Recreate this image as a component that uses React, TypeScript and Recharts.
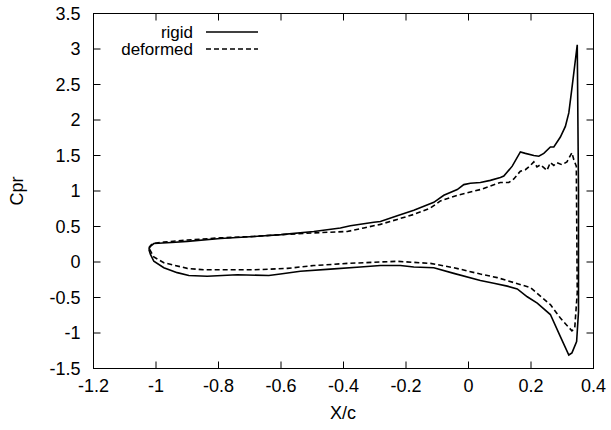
import React from 'react';
import { ScatterChart, Scatter, XAxis, YAxis, Label } from 'recharts';

const xTicks = [-1.2, -1, -0.8, -0.6, -0.4, -0.2, 0, 0.2, 0.4];
const yTicks = [-1.5, -1, -0.5, 0, 0.5, 1, 1.5, 2, 2.5, 3, 3.5];
const xDomain = [-1.2, 0.4];
const yDomain = [-1.5, 3.5];
const seriesNames = ['rigid', 'deformed'];
const xLabel = 'X/c';
const yLabel = 'Cpr';

const rigidX = [
  -1.023, -1.018, -1.007, -0.95, -0.9, -0.794, -0.687, -0.6, -0.495, -0.41, -0.378, -0.303, -0.282, -0.228,
  -0.175, -0.111, -0.079, -0.036, -0.015, 0.006, 0.038, 0.07, 0.102, 0.113, 0.14, 0.166, 0.182, 0.209, 0.225,
  0.241, 0.262, 0.273, 0.294, 0.31, 0.321, 0.331, 0.348,
  0.352, 0.352, 0.346, 0.331, 0.321,
  0.294, 0.262, 0.22, 0.188, 0.156, 0.124, 0.081, 0.038, -0.047, -0.111, -0.175, -0.218, -0.282, -0.346,
  -0.442, -0.538, -0.602, -0.639, -0.74, -0.836, -0.895, -0.932, -0.975, -1.007, -1.018, -1.023,
];
const rigidY = [
  0.18, 0.22, 0.26, 0.275, 0.29, 0.33, 0.36, 0.385, 0.43, 0.48, 0.51, 0.56, 0.57, 0.65,
  0.73, 0.84, 0.94, 1.02, 1.09, 1.11, 1.12, 1.15, 1.19, 1.21, 1.35, 1.55, 1.53, 1.5, 1.49,
  1.53, 1.62, 1.62, 1.76, 1.91, 2.1, 2.45, 3.06,
  1.0, -0.7, -1.12, -1.28, -1.31,
  -1.05, -0.74, -0.58, -0.49, -0.38, -0.34, -0.3, -0.26, -0.16, -0.08, -0.07, -0.05, -0.05, -0.07,
  -0.1, -0.13, -0.17, -0.19, -0.18, -0.2, -0.19, -0.15, -0.08, 0.01, 0.11, 0.18,
];

const deformedX = [
  -1.023, -1.012, -0.975, -0.9, -0.794, -0.687, -0.6, -0.495, -0.388, -0.335, -0.282, -0.228, -0.175,
  -0.122, -0.09, -0.036, 0.038, 0.07, 0.102, 0.129, 0.145, 0.166, 0.182, 0.198, 0.209, 0.219, 0.23,
  0.241, 0.251, 0.262, 0.273, 0.283, 0.299, 0.315, 0.331, 0.337, 0.345,
  0.348, 0.34, 0.331,
  0.294, 0.262, 0.23, 0.198, 0.145, 0.092, 0.038, -0.047, -0.122, -0.228, -0.282, -0.388, -0.495,
  -0.58, -0.687, -0.847, -0.9, -0.975, -1.007, -1.023,
];
const deformedY = [
  0.2, 0.26, 0.28, 0.31, 0.34, 0.36, 0.385, 0.41, 0.43, 0.48, 0.53, 0.6, 0.67,
  0.76, 0.86, 0.94, 1.02, 1.07, 1.12, 1.12, 1.17, 1.28, 1.3, 1.36, 1.41, 1.34, 1.37,
  1.33, 1.29, 1.4, 1.36, 1.4, 1.37, 1.41, 1.54, 1.44, 1.35,
  -0.43, -0.93, -0.97,
  -0.79, -0.6, -0.48, -0.36, -0.29, -0.22, -0.17, -0.08, -0.02, 0.01, 0.0, -0.02, -0.05,
  -0.09, -0.11, -0.11, -0.09, -0.01, 0.07, 0.2,
];

const rigidData = rigidX.map((x, i) => ({ x, y: rigidY[i] }));
const deformedData = deformedX.map((x, i) => ({ x, y: deformedY[i] }));

// mirrored tick positions on the top and right borders
const topTickData = xTicks.map((x) => ({ x, y: yDomain[1] }));
const rightTickData = yTicks.map((y) => ({ x: xDomain[1], y }));

const W = 611;
const H = 430;
const PLOT = { left: 93.5, top: 13.5, width: 500, height: 355 };

const FONT = 'Liberation Sans, Arial, sans-serif';
const FS = 18;
const LFS = 17;
const TICK = 7;
const tickStyle = { fontFamily: FONT, fontSize: FS, fill: '#000' };
const noShape = () => <g />;

const TopTick = (p: any) => <line x1={p.cx} x2={p.cx} y1={p.cy} y2={p.cy + TICK} stroke="#000" strokeWidth={1} />;
const RightTick = (p: any) => <line x1={p.cx - TICK} x2={p.cx} y1={p.cy} y2={p.cy} stroke="#000" strokeWidth={1} />;

export default function App() {
  return (
    <div style={{ position: 'absolute', left: 0, top: 0, width: W, height: H, background: '#fff' }}>
      <ScatterChart
        width={W}
        height={H}
        margin={{ top: PLOT.top, right: W - PLOT.left - PLOT.width, bottom: 0, left: 0 }}
      >
        <XAxis
          dataKey="x"
          type="number"
          domain={xDomain}
          ticks={xTicks}
          height={H - PLOT.top - PLOT.height}
          tickSize={-TICK}
          tickMargin={18}
          tick={tickStyle}
          axisLine={false}
          tickLine={{ stroke: '#000', strokeWidth: 1 }}
          interval={0}
        >
          <Label
            content={() => (
              <text x={343} y={419} textAnchor="middle" fontFamily={FONT} fontSize={FS} fill="#000">
                {xLabel}
              </text>
            )}
          />
        </XAxis>
        <YAxis
          dataKey="y"
          type="number"
          domain={yDomain}
          ticks={yTicks}
          width={PLOT.left}
          tickSize={-TICK}
          tickMargin={20}
          tick={tickStyle}
          axisLine={false}
          tickLine={{ stroke: '#000', strokeWidth: 1 }}
          interval={0}
        >
          <Label
            content={() => (
              <text
                x={23}
                y={191}
                transform="rotate(-90 23 191)"
                textAnchor="middle"
                fontFamily={FONT}
                fontSize={FS}
                fill="#000"
              >
                {yLabel}
              </text>
            )}
          />
        </YAxis>
        <Scatter name="topTicks" data={topTickData} shape={TopTick} isAnimationActive={false} legendType="none" />
        <Scatter name="rightTicks" data={rightTickData} shape={RightTick} isAnimationActive={false} legendType="none" />
        <Scatter
          name={seriesNames[0]}
          data={rigidData}
          line={{ stroke: '#000', strokeWidth: 1.6, fill: 'none' }}
          lineJointType="linear"
          shape={noShape}
          isAnimationActive={false}
        />
        <Scatter
          name={seriesNames[1]}
          data={deformedData}
          line={{ stroke: '#000', strokeWidth: 1.6, strokeDasharray: '5 3', fill: 'none' }}
          lineJointType="linear"
          shape={noShape}
          isAnimationActive={false}
        />
      </ScatterChart>
      <svg width={W} height={H} style={{ position: 'absolute', left: 0, top: 0, pointerEvents: 'none' }}>
        <rect
          x={PLOT.left}
          y={PLOT.top}
          width={PLOT.width}
          height={PLOT.height}
          fill="none"
          stroke="#000"
          strokeWidth={1}
        />
        <text x={193} y={38} textAnchor="end" fontFamily={FONT} fontSize={LFS} fill="#000">
          {seriesNames[0]}
        </text>
        <line x1={206} x2={258} y1={32} y2={32} stroke="#000" strokeWidth={1.6} />
        <text x={193} y={55} textAnchor="end" fontFamily={FONT} fontSize={LFS} fill="#000">
          {seriesNames[1]}
        </text>
        <line x1={206} x2={258} y1={49} y2={49} stroke="#000" strokeWidth={1.6} strokeDasharray="5 3" />
      </svg>
    </div>
  );
}
